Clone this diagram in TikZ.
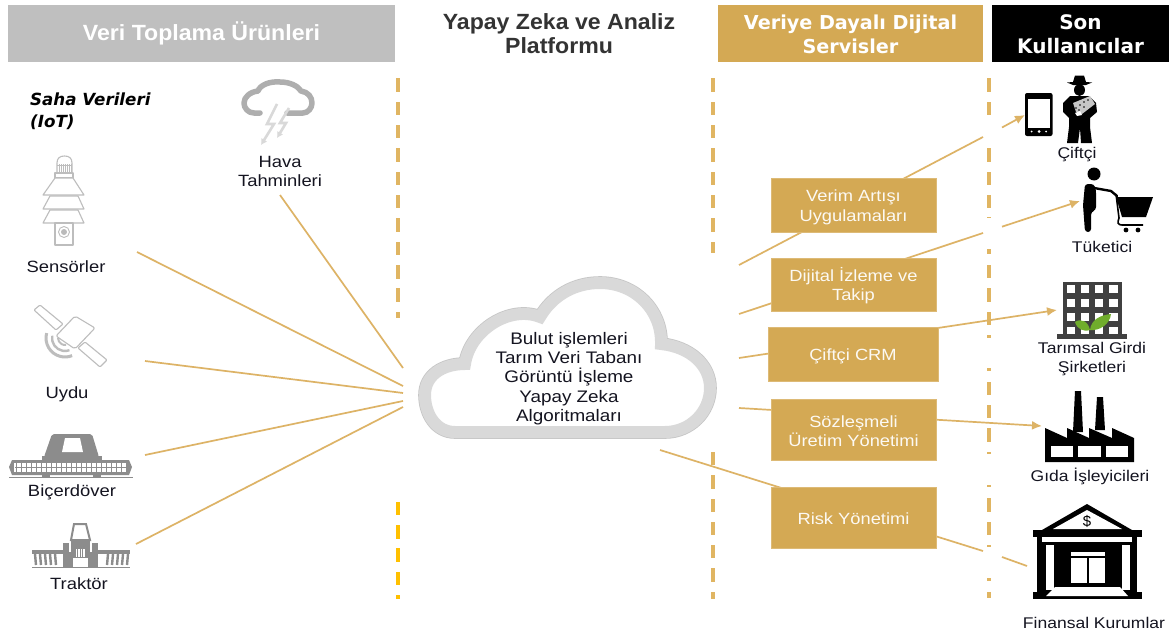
\documentclass[tikz,border=0pt]{standalone}
\usepackage{fontspec}
\setmainfont{Liberation Sans}
\newfontfamily\wide[FakeStretch=1.13]{Liberation Sans}
\newfontfamily\hdr[FakeStretch=1.05]{Liberation Sans}
\newfontfamily\djv{DejaVu Sans}
\usetikzlibrary{arrows.meta}
\definecolor{gold}{HTML}{D4A954}
\definecolor{dashgold}{HTML}{E0B562}
\definecolor{linegold}{HTML}{DDB366}
\definecolor{amber}{HTML}{FFC000}
\definecolor{hgrey}{HTML}{BFBFBF}
\definecolor{ring}{HTML}{D9D9D9}
\definecolor{ringedge}{HTML}{C6C6C6}
\definecolor{iconline}{HTML}{BDBDBD}
\definecolor{machine}{HTML}{8C8C8C}
\definecolor{lbl}{HTML}{141420}
\definecolor{bldg}{HTML}{404040}
\definecolor{leaf}{HTML}{70AD2C}
\tikzset{
  header/.style={anchor=center,inner sep=0pt,align=center,text=white},
  svc/.style={fill=gold,draw=gold!80!white,line width=.6pt},
  svclabel/.style={anchor=center,inner sep=0pt,align=center,text=white!93!gold,font=\wide\fontsize{16.2}{19.5}\selectfont},
  lab/.style={anchor=center,inner sep=0pt,align=center,text=lbl,font=\wide\fontsize{16.3}{19}\selectfont},
  labr/.style={anchor=center,inner sep=0pt,align=center,text=lbl,font=\wide\fontsize{15.5}{19}\selectfont},
  conn/.style={linegold,line width=1.7pt},
  arr/.style={conn,-{Latex[length=10pt,width=9pt]}},
  icon/.style={iconline,line width=1.1pt,fill=white,line join=round},
  mach/.style={fill=machine,draw=none},
  blk/.style={fill=black,draw=none},
  wht/.style={fill=white,draw=none},
}
\newcommand{\cloudpath}{(455,432) .. controls (436,432) and (425,414) .. (425,395) .. controls (425,375) and (443,364) .. (465,364) .. controls (470,330) and (510,305) .. (540,317) .. controls (553,295) and (575,283) .. (600,283) .. controls (635,283) and (662,310) .. (661,344) .. controls (690,347) and (710,365) .. (710,388) .. controls (710,412) and (690,432) .. (665,432) -- cycle}
\begin{document}
\begin{tikzpicture}[x=1pt,y=-1pt]
\useasboundingbox (0,0) rectangle (1173,637);
\fill[white] (0,0) rectangle (1173,637);
% headers
\fill[hgrey] (8,5) rectangle (395,62);
\node[header,font=\hdr\bfseries\fontsize{22}{26}\selectfont] (h1) at (201.5,33.5) {Veri Toplama Ürünleri};
\node[anchor=center,inner sep=0pt,align=center,text=black!80,font=\hdr\bfseries\fontsize{22}{24}\selectfont] (h2) at (559,34) {Yapay Zeka ve Analiz\\Platformu};
\fill[gold] (718,5) rectangle (983,62);
\node[header,font=\djv\bfseries\fontsize{19.2}{23.5}\selectfont] (h3) at (850.5,34.5) {Veriye Dayalı Dijital\\Servisler};
\fill[black] (992,5) rectangle (1169,62);
\node[header,font=\djv\bfseries\fontsize{20}{24}\selectfont] (h4) at (1080.5,34) {Son\\Kullanıcılar};
% dashed separators
\foreach \a/\b in {78/92,102/115,125/138,148/162,172/185,195/208,218/232,242/255,265/279,288/302,312/318}
  \fill[dashgold] (395.5,\a) rectangle (399.5,\b);
\foreach \a/\b in {502/515,525/539,548/562,572/585,595/599}
  \fill[amber] (395.5,\a) rectangle (399.5,\b);
\foreach \a/\b in {78/92,102/115,125/138,148/162,172/185,195/208,218/232,242/253,452/465,475/489,499/512,522/535,545/558,568/582,592/599}
  \fill[dashgold] (711,\a) rectangle (715,\b);
\foreach \a/\b in {78/92,102/115,148/162,172/185,195/208,217/218,249/254,265/278,288/302,312/325,335/338,368/371,382/395,405/418,428/442,452/454,485/487,498/512,522/535,545/547,578/581,592/598}
  \fill[dashgold] (987,\a) rectangle (991,\b);
% connector end points
\coordinate (cA) at (403,368); \coordinate (hava) at (280,195);
\coordinate (cB) at (403,386); \coordinate (sens) at (137,252);
\coordinate (cC) at (403,393); \coordinate (uydu) at (145,361);
\coordinate (cD) at (403,401); \coordinate (bic) at (145,455);
\coordinate (cE) at (403,407); \coordinate (trak) at (136,544);
\coordinate (r1) at (739,265); \coordinate (r1a) at (983,137); \coordinate (r1b) at (1002,127.5); \coordinate (phone) at (1025,115);
\coordinate (r2) at (739,314); \coordinate (r2a) at (983,233); \coordinate (r2b) at (1002,226.7); \coordinate (cons) at (1080,201);
\coordinate (r3) at (739,358); \coordinate (bina) at (1057,310);
\coordinate (r4) at (739,408); \coordinate (fab) at (1042,426);
\coordinate (r5) at (660,450); \coordinate (r5a) at (983,551); \coordinate (r5b) at (1002,557); \coordinate (bank) at (1027,566);
\draw[conn] (hava) -- (cA);
\draw[conn] (sens) -- (cB);
\draw[conn] (uydu) -- (cC);
\draw[conn] (bic) -- (cD);
\draw[conn] (trak) -- (cE);
\draw[conn] (r1) -- (r1a);
\draw[arr] (r1b) -- (phone);
\draw[conn] (r2) -- (r2a);
\draw[arr] (r2b) -- (cons);
\draw[arr] (r3) -- (bina);
\draw[arr] (r4) -- (fab);
\draw[conn] (r5) -- (r5a);
\draw[conn] (r5b) -- (bank);
% service boxes
\draw[svc] (771,178) rectangle (936,232);
\node[svclabel] (s1) at (853.5,207.5) {Verim Artışı\\Uygulamaları};
\draw[svc] (771,258) rectangle (936,311);
\node[svclabel] (s2) at (853.5,285.5) {Dijital İzleme ve\\Takip};
\draw[svc] (768,327) rectangle (938,381);
\node[svclabel] (s3) at (853,356.5) {Çiftçi CRM};
\draw[svc] (771,399) rectangle (936,460);
\node[svclabel] (s4) at (853.5,431) {Sözleşmeli\\Üretim Yönetimi};
\draw[svc] (771,487) rectangle (936,548);
\node[svclabel] (s5) at (853.5,519) {Risk Yönetimi};
% central cloud
\draw[ringedge,line width=13.6pt,line join=miter] \cloudpath;
\draw[ring,line width=12pt,line join=miter,fill=white] \cloudpath;
\node[anchor=center,inner sep=0pt,align=center,text=lbl,font=\wide\fontsize{16.7}{19.2}\selectfont] (cl) at (569,378.5) {Bulut işlemleri\\Tarım Veri Tabanı\\Görüntü İşleme\\Yapay Zeka\\Algoritmaları};
% left labels
\node[anchor=north west,inner sep=0pt,align=left,text=black,font=\djv\bfseries\itshape\fontsize{16.7}{22}\selectfont] (saha) at (30,92.5) {Saha Verileri\\(IoT)};
\node[lab] (l1) at (280,171.5) {Hava\\Tahminleri};
\node[lab] (l2) at (66,267) {Sensörler};
\node[lab] (l3) at (67,394) {Uydu};
\node[lab] (l4) at (72,492) {Biçerdöver};
\node[lab] (l5) at (79,584) {Traktör};
% weather icon
\draw[machine!70!white,line width=5.5pt,line cap=round,line join=round]
  (260,113) -- (254,113) .. controls (248,113) and (244,108) .. (244,103) .. controls (244,97) and (250,92) .. (258,91)
  .. controls (260,85) and (270,81) .. (280,82) .. controls (290,82) and (298,86) .. (301,91)
  .. controls (308,92) and (312,97) .. (312,103) .. controls (312,108) and (308,113) .. (303,113) -- (287,113);
\draw[ring,line width=2.6pt,line join=miter,-{Latex[length=6pt,width=7pt]}] (277,104) -- (267,124) -- (274,124) -- (261,145);
\draw[ring,line width=2.6pt,line join=miter,-{Latex[length=6pt,width=7pt]}] (289,108) -- (280,123) -- (286,123) -- (277,138);
% sensor icon
\draw[icon] (57,173) -- (57,163) .. controls (57,158) and (60,156) .. (64.5,156) .. controls (69,156) and (72,158) .. (72,163) -- (72,173) -- cycle;
\draw[iconline,line width=.8pt] (57,165) -- (72,165);
\foreach \x in {59,61,63,65,67,69,71} \draw[iconline,line width=.7pt] (\x,164) -- (\x,172);
\draw[icon] (55,173) rectangle (73,178);
\draw[icon] (55,178) -- (73,178) -- (84,195) -- (43,195) -- cycle;
\draw[icon] (50,196) -- (78,196) -- (84,209) -- (43,209) -- cycle;
\draw[icon] (50,210) -- (78,210) -- (84,223) -- (43,223) -- cycle;
\draw[icon] (55,223) rectangle (73,245);
\draw[iconline,line width=.9pt] (64,232) circle (5.5);
\fill[machine!60!white] (64,232) circle (3);
% satellite icon
\draw[icon,rounded corners=1pt] (40,305) -- (63,324) -- (56,330) -- (34,310) -- cycle;
\draw[icon,rounded corners=2pt] (75,316) -- (95,328) -- (75,349) -- (56,336) -- cycle;
\draw[icon,rounded corners=1pt] (85,342) -- (107,360) -- (100,367) -- (78,348) -- cycle;
\coordinate (dish) at (65,338);
\draw[iconline,line width=3pt] ([shift={(195:19)}]dish) arc (195:68:19);
\draw[iconline,line width=2.4pt] ([shift={(190:13)}]dish) arc (190:70:13);
\draw[iconline,line width=2pt] ([shift={(180:7)}]dish) arc (180:80:7);
% combine icon
\fill[mach,rounded corners=2pt] (52,434) -- (92,434) -- (99,457) -- (44,457) -- cycle;
\fill[mach] (42,456) rectangle (102,461);
\fill[wht] (65,438) -- (80,438) -- (83,452) -- (62,452) -- cycle;
\fill[mach] (12,460) -- (129,460) -- (132,467) -- (129,475) -- (12,475) -- (9,467) -- cycle;
\fill[wht] (14,463) rectangle (127,472);
\draw[machine,line width=1.4pt] (15,467.5) -- (126,467.5);
\foreach \x in {16,21,...,126} \draw[machine,line width=.6pt] (\x,463) -- (\x,472);
\fill[mach] (42,475) rectangle (50,477);
\fill[mach] (93,475) rectangle (101,477);
\draw[machine,line width=1.2pt] (9,477.5) -- (133,477.5);
% tractor icon
\draw[machine,line width=2pt,fill=white] (74,524) -- (86,524) -- (90,540) -- (71,540) -- cycle;
\fill[mach] (71,539) rectangle (90,558);
\fill[wht] (76,549) rectangle (85,557);
\foreach \x in {77.5,80,82.5} \draw[machine,line width=.7pt] (\x,549) -- (\x,557);
\fill[mach] (63,543) rectangle (69,567);
\fill[mach] (92,543) rectangle (98,567);
\fill[mach] (69,552) rectangle (73,567);
\fill[mach] (88,552) rectangle (92,567);
\fill[mach] (32,550) rectangle (63,554);
\fill[mach] (98,550) rectangle (130,554);
\foreach \x in {35,40,...,55} {\draw[machine,line width=2.4pt] (\x,554) -- (\x+1,565);}
\foreach \x in {107,112,...,127} {\draw[machine,line width=2.4pt] (\x,565) -- (\x+1,554);}
\draw[machine,line width=1.4pt] (32,567.5) -- (130,567.5);
% right labels
\node[labr] (e1) at (1077,154.5) {Çiftçi};
\node[labr] (e2) at (1102,247) {Tüketici};
\node[labr] (e3) at (1092,359.5) {Tarımsal Girdi\\Şirketleri};
\node[labr] (e4) at (1090,476) {Gıda İşleyicileri};
\node[labr] (e5) at (1094,622.5) {Finansal Kurumlar};
% phone
\fill[black,rounded corners=2pt] (1025,93) rectangle (1052.5,136);
\fill[wht] (1027.7,99.3) rectangle (1050,128);
\fill[wht] (1039,131.5) circle (1.5);
\fill[wht] (1031.5,131.5) circle (1);
\fill[wht] (1046,131.5) circle (1);
% farmer
\fill[blk] (1073,82) -- (1075,75.5) -- (1084,75.5) -- (1086,82) -- (1092,82.5) -- (1086,85) -- (1073,85) -- (1067,82.5) -- cycle;
\fill[blk] (1079.5,90) ellipse (5.5 and 6);
\fill[blk] (1070,96) -- (1089,96) -- (1096,103) -- (1097,112) -- (1090,118) -- (1090,127) -- (1092,143) -- (1081,143) -- (1080,128) -- (1078,143) -- (1067,143) -- (1069,127) -- (1069,118) -- (1063,112) -- (1063,103) -- cycle;
\fill[machine!50!white] (1073,103) -- (1090,96) -- (1095,104) -- (1082,114) -- (1076,112) -- cycle;
\foreach \p/\q in {1076/108,1080/105,1084/102,1088/100,1079/110,1084/107} \fill[black] (\p,\q) circle (.8);
\fill[white] (1075,113) -- (1080,111) -- (1082,115) -- (1077,116) -- cycle;
% consumer
\fill[blk] (1094,174) circle (6.5);
\fill[blk,rounded corners=3pt] (1085,184) -- (1094,184) -- (1096,190) -- (1096,210) -- (1091,212) -- (1091,232) -- (1085,232) -- (1083,205) -- cycle;
\draw[black,line width=2.4pt,line cap=round] (1094,188) -- (1111,191) -- (1117,196);
\fill[blk] (1116,197) -- (1153,197) -- (1146,217) -- (1122,217) -- cycle;
\draw[black,line width=1.6pt] (1116,194) -- (1119,218) .. controls (1117,223) and (1118,225) .. (1122,225) -- (1143,225);
\fill[blk] (1126,230) circle (2.4);
\fill[blk] (1138,230) circle (2.4);
% input company building
\fill[bldg] (1063,282) rectangle (1122,335);
\foreach \c in {1066.7,1080.7,1095,1109.3}
  \foreach \r in {285,299,313.3,327}
    \fill[wht] (\c,\r) rectangle +(8.3,8);
\fill[bldg] (1057,334) rectangle (1127,339);
\fill[leaf] (1075,322) .. controls (1081,318) and (1088,321) .. (1090,330) .. controls (1083,332) and (1077,329) .. (1075,322) -- cycle;
\fill[leaf] (1090,330) .. controls (1091,320) and (1100,315) .. (1111,314) .. controls (1110,324) and (1100,331) .. (1090,330) -- cycle;
% factory
\fill[blk] (1075,391) -- (1081,391) -- (1083,432) -- (1073,432) -- cycle;
\fill[blk] (1097,397) -- (1103,397) -- (1105,430) -- (1095,430) -- cycle;
\fill[blk] (1045,428) -- (1067,438) -- (1067,428) -- (1089,438) -- (1089,428) -- (1112,438) -- (1112,428) -- (1134,438) -- (1134,462) -- (1045,462) -- cycle;
\fill[wht] (1051,446) rectangle (1073,457);
\fill[wht] (1078,446) rectangle (1101,457);
\fill[wht] (1106,446) rectangle (1128,457);
% bank
\fill[blk] (1087,504) -- (1132,530) -- (1042,530) -- cycle;
\fill[wht] (1087,510) -- (1122,529) -- (1053,529) -- cycle;
\node[anchor=center,inner sep=0pt,text=black,font=\fontsize{15}{15}\selectfont] (dollar) at (1087,521.5) {\$};
\fill[blk] (1033,530) rectangle (1142,537);
\fill[blk] (1037,537) rectangle (1137,592);
\fill[wht] (1042,537) rectangle (1132,542);
\fill[wht] (1046,545) rectangle (1054,590);
\fill[wht] (1122,545) rectangle (1130,590);
\fill[wht] (1071,552) rectangle (1105,556);
\fill[wht] (1071,558) rectangle (1087,583);
\fill[wht] (1088.5,558) rectangle (1105,583);
\fill[blk] (1033,592) rectangle (1142,599);
\fill[wht] (1055,587) -- (1120,587) -- (1128,596) -- (1046,596) -- cycle;
\end{tikzpicture}
\end{document}
